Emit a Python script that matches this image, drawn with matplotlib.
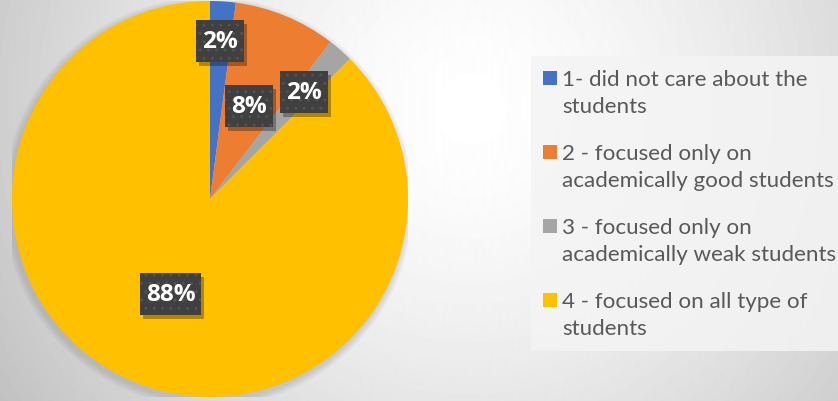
import numpy as np
import matplotlib
matplotlib.use('Agg')
import matplotlib.pyplot as plt
from matplotlib.patches import Rectangle

# data (counts give 2% / 8% / 2% / 88%)
categories = ['1- did not care about the\nstudents',
              '2 - focused only on\nacademically good students',
              '3 - focused only on\nacademically weak students',
              '4 - focused on all type of\nstudents']
counts = [1, 4, 1, 42]
colors = ['#4472C4', '#ED7D31', '#A5A5A5', '#FFC000']
label_dist = [0.80, 0.51, 0.72, 0.52]

plt.rcParams['hatch.color'] = '#525252'
plt.rcParams['hatch.linewidth'] = 1.0

W, H = 838, 402
fig = plt.figure(figsize=(W / 100, H / 100), dpi=100)

# radial grey background
bg = fig.add_axes([0, 0, 1, 1])
yy, xx = np.mgrid[0:H, 0:W]
d = np.hypot(xx - 470, yy - 110) / 470.0
shade = 1.0 - 0.19 * np.clip(d, 0, 1.3) ** 1.5
bg.imshow(shade, cmap='gray', vmin=0, vmax=1, extent=[0, W, H, 0], aspect='auto')
bg.set_xlim(0, W)
bg.set_ylim(H, 0)
bg.axis('off')

# legend panel
bg.add_patch(Rectangle((531, 57), W - 531, 295, facecolor='#f4f4f4', edgecolor='none', alpha=0.85))

# pie
cx, cy, r = 210, 200, 198
ax = fig.add_axes([(cx - r) / W, (H - cy - r) / H, 2 * r / W, 2 * r / H])
wedges, _ = ax.pie(counts, colors=colors, startangle=90, counterclock=False,
                   wedgeprops=dict(linewidth=0))
ax.set_aspect('equal')
ax.set_xlim(-1, 1)
ax.set_ylim(-1, 1)

# soft halo around the pie
for k in range(6):
    halo = plt.Circle((-0.01, -0.015), 1.0 + 0.006 * (k + 1), color='#7f7f7f', alpha=0.05,
                      zorder=0, lw=0)
    ax.add_patch(halo)

total = sum(counts)
labels = []
for w, c, dist in zip(wedges, counts, label_dist):
    ang = np.deg2rad((w.theta1 + w.theta2) / 2)
    t = ax.text(dist * np.cos(ang), dist * np.sin(ang), '%d%%' % round(100 * c / total),
                ha='center', va='center', color='white', fontsize=17.5, fontweight='bold',
                family='Open Sans', zorder=6)
    labels.append(t)

# dark dotted label boxes with drop shadow, sized from the drawn text
fig.canvas.draw()
for t in labels:
    bb = t.get_window_extent()
    xc, yc = (bb.x0 + bb.x1) / 2, (bb.y0 + bb.y1) / 2
    bw, bh = bb.width + 12, 42
    ax.add_patch(Rectangle((xc - bw / 2 + 3, yc - bh / 2 - 4), bw, bh, transform=None,
                           facecolor='black', alpha=0.3, edgecolor='none', zorder=4))
    ax.add_patch(Rectangle((xc - bw / 2, yc - bh / 2), bw, bh, transform=None,
                           facecolor='#404040', edgecolor='#525252', linewidth=0,
                           hatch='..', zorder=5))

# legend drawn by hand, one text per line
ly0, step, line_h = 86, 74, 27
for i, (lab, col) in enumerate(zip(categories, colors)):
    base = ly0 + i * step
    bg.add_patch(Rectangle((543, base - 14), 13.5, 13.5, facecolor=col, edgecolor='none'))
    for j, line in enumerate(lab.split('\n')):
        bg.text(562, base + j * line_h, line, ha='left', va='baseline', fontsize=16.1,
                color='#595959', family='Lato')

fig.savefig('out.png', dpi=100)
